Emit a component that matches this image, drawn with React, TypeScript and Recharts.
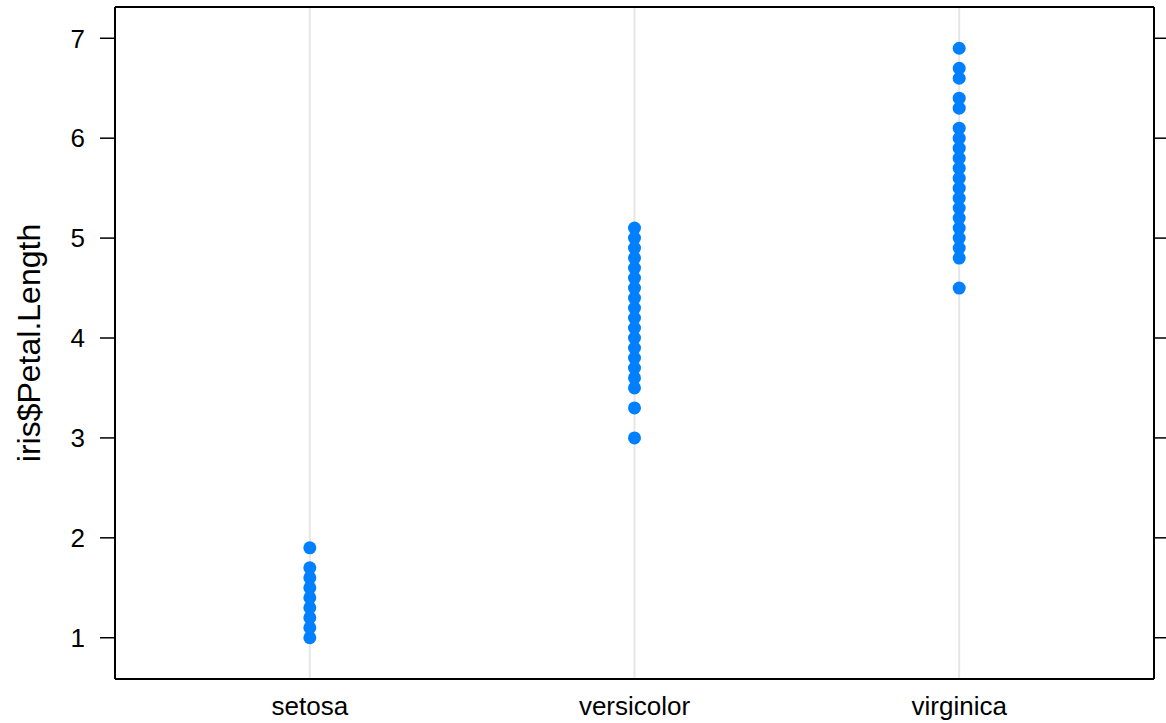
import React from 'react';
import { ScatterChart, Scatter, XAxis, YAxis, CartesianGrid } from 'recharts';

// categories and unique petal lengths
const species = ['setosa', 'versicolor', 'virginica'];
const setosaPetalLength = [1.0, 1.1, 1.2, 1.3, 1.4, 1.5, 1.6, 1.7, 1.9];
const versicolorPetalLength = [
  3.0, 3.3, 3.5, 3.6, 3.7, 3.8, 3.9, 4.0, 4.1, 4.2, 4.3, 4.4, 4.5, 4.6, 4.7, 4.8, 4.9, 5.0, 5.1,
];
const virginicaPetalLength = [
  4.5, 4.8, 4.9, 5.0, 5.1, 5.2, 5.3, 5.4, 5.5, 5.6, 5.7, 5.8, 5.9, 6.0, 6.1, 6.3, 6.4, 6.6, 6.7, 6.9,
];
const yTicks = [1, 2, 3, 4, 5, 6, 7];
const xTicks = [1, 2, 3];

const seriesValues = [setosaPetalLength, versicolorPetalLength, virginicaPetalLength];

const FONT = '"Liberation Sans", Arial, Helvetica, sans-serif';
const DOT = '#0080ff';

const Dot = (props: any) => {
  const { cx, cy } = props;
  if (cx == null || cy == null) return null;
  return <circle cx={cx} cy={cy} r={6.5} fill={DOT} />;
};

const YLabel = () => (
  <text
    x={40}
    y={343}
    transform="rotate(-90 40 343)"
    textAnchor="middle"
    fontSize={32}
    fontFamily={FONT}
    fill="#000"
  >
    iris$Petal.Length
  </text>
);

export default function App() {
  return (
    <div style={{ position: 'absolute', left: 0, top: 0, background: '#fff' }}>
      <ScatterChart
        width={1166}
        height={723}
        margin={{ top: 6, right: 0, bottom: 0, left: 0 }}
        style={{ fontFamily: FONT }}
      >
        <CartesianGrid horizontal={false} stroke="#e6e6e6" strokeWidth={2} />
        <XAxis
          type="number"
          dataKey="x"
          domain={[0.4, 3.6]}
          ticks={xTicks}
          allowDataOverflow
          height={44}
          tickLine={false}
          tickSize={8}
          tickMargin={10}
          axisLine={{ stroke: '#000', strokeWidth: 2 }}
          tick={{ fill: '#000', fontSize: 26 }}
          tickFormatter={(v: number) => species[v - 1] ?? ''}
        />
        {/* top edge of the frame */}
        <XAxis
          xAxisId="top"
          orientation="top"
          type="number"
          domain={[0.4, 3.6]}
          ticks={xTicks}
          height={1}
          tickFormatter={() => ''}
          tickLine={false}
          axisLine={{ stroke: '#000', strokeWidth: 2 }}
        />
        <YAxis
          type="number"
          dataKey="y"
          domain={[0.587, 7.313]}
          ticks={yTicks}
          allowDataOverflow
          width={115}
          tickSize={15}
          tickMargin={15}
          axisLine={{ stroke: '#000', strokeWidth: 2 }}
          tickLine={{ stroke: '#000', strokeWidth: 1.5 }}
          tick={{ fill: '#000', fontSize: 26 }}
          label={<YLabel />}
        />
        <YAxis
          yAxisId="right"
          orientation="right"
          type="number"
          domain={[0.587, 7.313]}
          ticks={yTicks}
          allowDataOverflow
          width={12}
          tickSize={15}
          tickMargin={0}
          axisLine={{ stroke: '#000', strokeWidth: 2 }}
          tickLine={{ stroke: '#000', strokeWidth: 1.5 }}
          tickFormatter={() => ''}
        />
        {seriesValues.map((vals, i) => (
          <Scatter
            key={species[i]}
            name={species[i]}
            data={vals.map((v) => ({ x: i + 1, y: v }))}
            shape={<Dot />}
            isAnimationActive={false}
          />
        ))}
      </ScatterChart>
    </div>
  );
}
